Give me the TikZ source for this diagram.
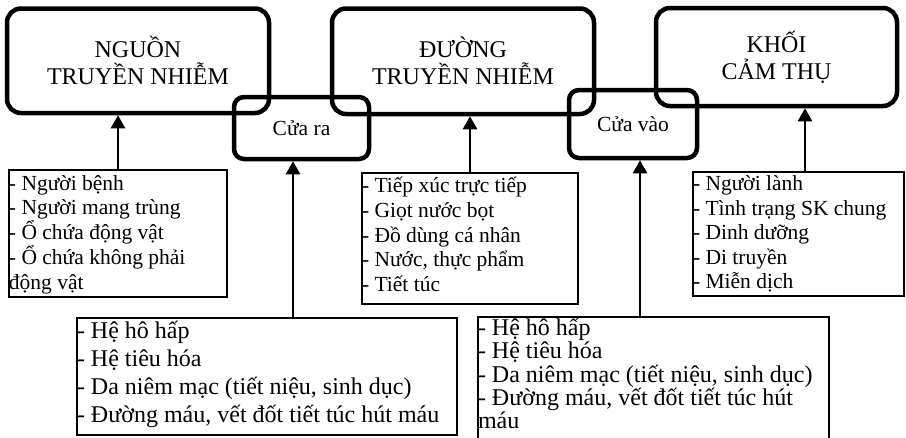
\documentclass[tikz,border=0pt]{standalone}
\usepackage{fontspec}
\setmainfont{Liberation Serif}
\usetikzlibrary{arrows.meta}

% #1 width, #2 height, #3 font size, #4 line pitch, #5 first baseline, #6 lines
\newcommand\linesbox[6]{%
  \parbox[t][#2][t]{#1}{\fontsize{#3}{#4}\selectfont
    \lineskiplimit=-100pt\lineskip=0pt\raggedright
    \vspace*{\dimexpr#5-#4\relax}\par\prevdepth=0pt #6}}

\tikzset{
  bigbox/.style={draw, line width=4.5pt, rounded corners=14pt, align=center,
    inner sep=0pt, font=\fontsize{24pt}{27pt}\selectfont},
  gatebox/.style={draw, line width=4.5pt, rounded corners=10pt,
    inner sep=0pt, font=\fontsize{21.5pt}{24pt}\selectfont},
  listbox/.style={draw, line width=1.5pt, inner sep=0pt, outer sep=0pt,
    anchor=north west},
  arr/.style={line width=2.5pt, -{Triangle[width=14pt,length=13pt]}}
}

\begin{document}
\begin{tikzpicture}[x=1pt, y=-1pt]
\fill[white] (0,0) rectangle (906,437);
\useasboundingbox (0,0) rectangle (906,437);

% main chain
\node[bigbox, minimum width=262pt, minimum height=104.5pt] (source) at (138,60.75)
  {NGUỒN\\TRUYỀN NHIỄM};
\node[bigbox, minimum width=262pt, minimum height=105.5pt] (route) at (463,61.25)
  {ĐƯỜNG\\TRUYỀN NHIỄM};
\node[bigbox, minimum width=241pt, minimum height=98pt] (host) at (776.5,57)
  {KHỐI\\CẢM THỤ};

% portals
\node[gatebox, minimum width=135pt, minimum height=62pt] (exit) at (301.5,128) {Cửa ra};
\node[gatebox, minimum width=128pt, minimum height=68pt] (entry) at (633,124) {Cửa vào};

% detail lists
\node[listbox] (srclist) at (9,170)
  {\linesbox{218pt}{127pt}{21.5pt}{24.75pt}{20pt}{%
  - Người bệnh\\- Người mang trùng\\- Ổ chứa động vật\\- Ổ chứa không phải\\động vật}};
\node[listbox] (routelist) at (362,173)
  {\linesbox{216pt}{131pt}{21.5pt}{24.75pt}{19.5pt}{%
  - Tiếp xúc trực tiếp\\- Giọt nước bọt\\- Đồ dùng cá nhân\\- Nước, thực phẩm\\- Tiết túc}};
\node[listbox] (hostlist) at (693,172)
  {\linesbox{211pt}{124pt}{21.5pt}{24.5pt}{18.5pt}{%
  - Người lành\\- Tình trạng SK chung\\- Dinh dưỡng\\- Di truyền\\- Miễn dịch}};
\node[listbox] (exitlist) at (77,318)
  {\linesbox{380pt}{117pt}{24pt}{28pt}{20.5pt}{%
  - Hệ hô hấp\\- Hệ tiêu hóa\\- Da niêm mạc (tiết niệu, sinh dục)\\- Đường máu, vết đốt tiết túc hút máu}};
\node[listbox] (entrylist) at (478,317)
  {\linesbox{351pt}{123pt}{24pt}{23.3pt}{18.5pt}{%
  - Hệ hô hấp\\- Hệ tiêu hóa\\- Da niêm mạc (tiết niệu, sinh dục)\\- Đường máu, vết đốt tiết túc hút\\máu}};

% arrow columns
\coordinate (xexit) at (293,0);
\coordinate (xentry) at (640,0);
\coordinate (xhost) at (805,0);

\draw[arr] (srclist.north) -- (source.south -| srclist.north);
\draw[arr] (exitlist.north -| xexit) -- (exit.south -| xexit);
\draw[arr] (routelist.north) -- (route.south -| routelist.north);
\draw[arr] (entrylist.north -| xentry) -- (entry.south -| xentry);
\draw[arr] (hostlist.north -| xhost) -- (host.south -| xhost);
\end{tikzpicture}
\end{document}
